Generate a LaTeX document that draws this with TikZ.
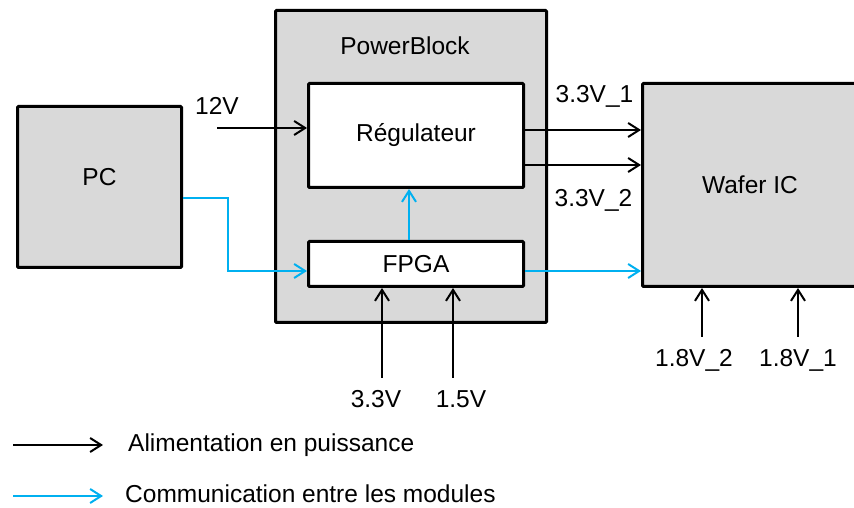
\documentclass[tikz,border=0pt]{standalone}
\usepackage{fontspec}
\setmainfont{Liberation Sans}
\usetikzlibrary{arrows.meta,calc}
\definecolor{boxgray}{HTML}{D9D9D9}
\definecolor{comblue}{HTML}{00B0F0}
\tikzset{
  block/.style = {draw, line width=3pt, rectangle, fill=boxgray, inner sep=0pt,
                  rounded corners=1pt},
  pwr/.style   = {-{Straight Barb[length=11pt,width=14pt]}, line width=2pt},
  com/.style   = {pwr, comblue},
  lbl/.style   = {anchor=base, inner sep=0pt},
}

\begin{document}
\begin{tikzpicture}[x=1pt, y=1pt, font=\fontsize{24.5}{29}\selectfont]
\useasboundingbox (0,0) rectangle (854,508);
% ---- blocks ----
\node[block, minimum width=271pt, minimum height=312pt] (power) at (411,341.5) {};
\node[lbl] (powertitle) at (405,453) {PowerBlock};
\node[block, fill=white, minimum width=215pt, minimum height=104pt] (reg)
     at (416,372.5) {Régulateur};
\node[block, fill=white, minimum width=215pt, minimum height=45pt] (fpga)
     at (416,244) {FPGA};
\node[block, minimum width=164pt, minimum height=161pt,
      label={[yshift=10pt]center:PC}] (pc) at (99.5,321) {};
\node[block, minimum width=215pt, minimum height=203pt] (wafer)
     at (750,323) {Wafer IC};
% ---- power inputs ----
\coordinate (in12) at (217,380);
\draw[pwr] (in12) -- (in12 -| reg.west);
\node[lbl] (l12) at (217,393) {12V};
\coordinate (v33) at (382,130);
\draw[pwr] (v33) -- (v33 |- fpga.south);
\node[lbl] (l33) at (376,100) {3.3V};
\coordinate (v15) at (453,130);
\draw[pwr] (v15) -- (v15 |- fpga.south);
\node[lbl] (l15) at (461,100) {1.5V};
\coordinate (v18b) at (702,171);
\draw[pwr] (v18b) -- (v18b |- wafer.south);
\node[lbl] (l18b) at (694,141) {1.8V\_2};
\coordinate (v18a) at (798,171);
\draw[pwr] (v18a) -- (v18a |- wafer.south);
\node[lbl] (l18a) at (798,141) {1.8V\_1};
% ---- regulator outputs ----
\coordinate (out1) at ([yshift=5.5pt]reg.east);
\draw[pwr] (out1) -- (out1 -| wafer.west);
\node[lbl] (lout1) at (594.5,405) {3.3V\_1};
\coordinate (out2) at ([yshift=-29.5pt]reg.east);
\draw[pwr] (out2) -- (out2 -| wafer.west);
\node[lbl] (lout2) at (593.5,301) {3.3V\_2};
% ---- communication ----
\coordinate (pcout) at ([yshift=-11pt]pc.east);
\coordinate (fin) at ([yshift=-7pt]fpga.west);
\draw[com] (pcout) -- ++(45,0) |- (fin);
\coordinate (fup) at ([xshift=-7pt]fpga.north);
\draw[com] (fup) -- (fup |- reg.south);
\coordinate (fout) at ([yshift=-7pt]fpga.east);
\draw[com] (fout) -- (fout -| wafer.west);
% ---- legend ----
\coordinate (leg1) at (13,63);
\draw[pwr] (leg1) -- ++(90,0);
\node[lbl, anchor=base west] (legtxt1) at (128,56) {Alimentation en puissance};
\coordinate (leg2) at (13,12);
\draw[com] (leg2) -- ++(90,0);
\node[lbl, anchor=base west] (legtxt2) at (125,5) {Communication entre les modules};
\end{tikzpicture}
\end{document}
